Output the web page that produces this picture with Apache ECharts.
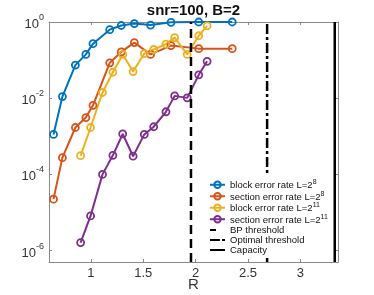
<!DOCTYPE html>
<html><head><meta charset="utf-8">
<script src="https://cdn.jsdelivr.net/npm/echarts@6/dist/echarts.min.js"></script>
<style>html,body{margin:0;padding:0;background:#fff}#c{width:374px;height:295px}</style>
</head><body><div id="c"></div>
<script>
// Rate values (x) for each block length
const rateL8 = [0.643, 0.728, 0.852, 0.952, 1.02, 1.18, 1.29, 1.415, 1.57, 1.765, 2.03, 2.35];
const rateL11 = [0.902, 0.997, 1.111, 1.21, 1.304, 1.403, 1.51, 1.60, 1.717, 1.80, 1.92, 2.03, 2.11];
// Error rates (y)
const blockL8 = [1.12e-3, 0.011, 0.074, 0.141, 0.269, 0.63, 0.81, 0.91, 0.83, 0.98, 1, 1];
const sectionL8 = [2.24e-5, 2.75e-4, 1.7e-3, 3.1e-3, 6.5e-3, 0.085, 0.164, 0.288, 0.141, 0.24, 0.2, 0.2];
const blockL11 = [3.1e-4, 1.7e-3, 0.0141, 0.048, 0.141, 0.05, 0.148, 0.19, 0.263, 0.39, 0.141, 0.436, 0.794];
const sectionL11 = [1.62e-6, 8.1e-6, 1.0e-4, 3.16e-4, 1.15e-3, 3.0e-4, 1.12e-3, 1.78e-3, 4.4e-3, 0.0115, 0.0102, 0.041, 0.093];
// Thresholds
const bpThreshold = 1.956;
const optThreshold = 2.683;
const capacity = 3.329;
const xTicks = [1, 1.5, 2, 2.5, 3];
const yTicks = [1e-6, 1e-4, 1e-2, 1];
const yMin = Math.pow(10, -6.3), yMax = 1;
const xMin = 0.6, xMax = 3.36;

const colors = ['#0072BD', '#D95319', '#EDB120', '#7E2F8E'];
const names = ['block error rate L=2^8', 'section error rate L=2^8', 'block error rate L=2^11', 'section error rate L=2^11'];
const xs = [rateL8, rateL8, rateL11, rateL11];
const ys = [blockL8, sectionL8, blockL11, sectionL11];

const dataSeries = ys.map((arr, k) => ({
  name: names[k], type: 'line',
  data: arr.map((v, i) => [xs[k][i], v]),
  symbol: 'circle', symbolSize: 7,
  itemStyle: { color: 'rgba(255,255,255,0)', borderColor: colors[k], borderWidth: 1.8 },
  lineStyle: { color: colors[k], width: 2 },
  emphasis: { disabled: true }, animation: false, z: 2
}));
function vline(name, x, type, w) {
  return { name, type: 'line', data: [[x, yMin], [x, yMax]], symbol: 'circle', showSymbol: false, symbolSize: 0,
    lineStyle: { color: '#000', width: w, type }, itemStyle: { color: 'rgba(0,0,0,0)', borderColor: 'rgba(0,0,0,0)', borderWidth: 0 },
    emphasis: { disabled: true }, animation: false, z: 3 };
}
const lineSeries = [
  vline('BP threshold', bpThreshold, [9, 5], 2.5),
  vline('Optimal threshold', optThreshold, [10, 3, 3, 3], 2.5),
  vline('Capacity', capacity, 'solid', 2.5)
];

function legendFmt(n) {
  const m = n.match(/^(.*)\^(\d+)$/);
  if (m) return '{b|' + m[1] + '}{s|' + m[2] + '}';
  return '{p|' + n + '}';
}
const axisGray = '#8a8a8a';
const labelColor = '#333';
const ff = 'Liberation Sans';

const legendData = names.map(n => ({ name: n })).concat([
  { name: 'BP threshold', lineStyle: { type: [6, 20] } },
  { name: 'Optimal threshold', lineStyle: { type: [10, 2, 3, 20] } },
  { name: 'Capacity' }
]);

const chart = echarts.init(document.getElementById('c'), null, { renderer: 'canvas' });
chart.setOption({
  animation: false,
  title: { text: 'snr=100, B=2', left: 193.5, textAlign: 'center', top: 0, padding: [3, 0, 0, 0],
    textStyle: { fontFamily: ff, fontSize: 15, fontWeight: 'bold', color: '#111' } },
  grid: { left: 49, right: 36, top: 22, bottom: 33, containLabel: false, outerBoundsMode: 'none' },
  legend: {
    orient: 'vertical', left: 206, top: 176, itemWidth: 15, itemHeight: 8, itemGap: 0,
    backgroundColor: '#fff', padding: [3, 3, 3, 3],
    data: legendData,
    formatter: legendFmt,
    textStyle: { fontFamily: ff, fontSize: 9.5, color: '#111',
      rich: { b: { fontSize: 9.5, lineHeight: 11.5, verticalAlign: 'bottom', fontFamily: ff, color: '#111' },
              p: { fontSize: 9.5, lineHeight: 10, fontFamily: ff, color: '#111' },
              s: { fontSize: 7, lineHeight: 7, verticalAlign: 'top', fontFamily: ff, color: '#111' } } }
  },
  xAxis: [{
    type: 'value', min: xMin, max: xMax, interval: 0.5, position: 'bottom',
    name: 'R', nameLocation: 'middle', nameGap: 15, nameMoveOverlap: false,
    nameTextStyle: { fontFamily: ff, fontSize: 15, color: labelColor },
    axisLine: { show: true, lineStyle: { color: axisGray, width: 1 } },
    axisTick: { show: true, inside: true, length: 3, lineStyle: { color: axisGray }, customValues: xTicks },
    axisLabel: { fontFamily: ff, fontSize: 13, color: labelColor, margin: 5, customValues: xTicks,
      formatter: v => String(v) },
    splitLine: { show: false }
  }, {
    type: 'value', min: xMin, max: xMax, interval: 0.5, position: 'top',
    axisLine: { show: true, onZero: false, lineStyle: { color: axisGray, width: 1 } },
    axisTick: { show: true, inside: true, length: 3, lineStyle: { color: axisGray }, customValues: xTicks },
    axisLabel: { show: false }, splitLine: { show: false }
  }],
  yAxis: [{
    type: 'log', logBase: 10, min: yMin, max: yMax, interval: 0.1, position: 'left',
    axisLine: { show: true, lineStyle: { color: axisGray, width: 1 } },
    axisTick: { show: true, inside: true, length: 3, lineStyle: { color: axisGray }, customValues: yTicks },
    axisLabel: { margin: 5, color: labelColor, customValues: yTicks,
      formatter: v => '{b|10}{s|' + Math.round(Math.log10(v)) + '}',
      rich: { b: { fontFamily: ff, fontSize: 13, lineHeight: 18, verticalAlign: 'bottom', color: labelColor },
              s: { fontFamily: ff, fontSize: 9, lineHeight: 9, verticalAlign: 'top', color: labelColor } } },
    splitLine: { show: false }, minorTick: { show: false }
  }, {
    type: 'log', logBase: 10, min: yMin, max: yMax, interval: 0.1, position: 'right',
    axisLine: { show: true, onZero: false, lineStyle: { color: axisGray, width: 1 } },
    axisTick: { show: true, inside: true, length: 3, lineStyle: { color: axisGray }, customValues: yTicks },
    axisLabel: { show: false }, splitLine: { show: false }
  }],
  series: dataSeries.concat(lineSeries)
});
</script></body></html>
